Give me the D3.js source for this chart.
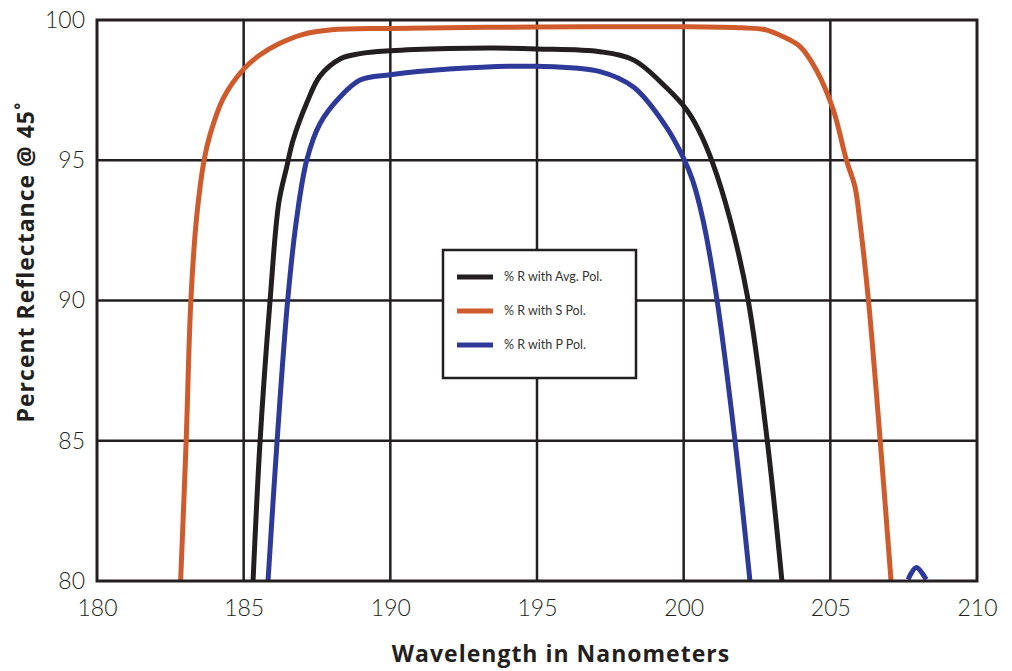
<!DOCTYPE html>
<html><head><meta charset="utf-8">
<script src="https://cdn.jsdelivr.net/npm/d3@7"></script>
<style>body{margin:0;background:#fff}</style>
</head><body>
<svg id="chart" width="1012" height="671"></svg>
<script>
const xTicks = [180,185,190,195,200,205,210];
const yTicks = [80,85,90,95,100];
const seriesNames = ["% R with Avg. Pol.","% R with S Pol.","% R with P Pol."];
const seriesColors = ["#231f20","#cf5a2c","#2e3a9a"];
const avgPol = [[185.32,80],[185.56,85],[185.9,90],[186.2,93.5],[186.47,94.77],[186.68,95.7],[187.15,97.04],[187.6,98.0],[188.3,98.62],[188.97,98.8],[190,98.9],[192,98.98],[193.5,99.0],[195,98.97],[197.15,98.87],[198.3,98.57],[199.4,97.6],[200.1,96.8],[200.5,96.1],[200.99,94.9],[201.58,92.9],[202.2,90],[202.85,85],[203.35,80]];
const sPol = [[182.85,80],[183.04,85],[183.2,90],[183.4,93],[183.65,95],[183.85,95.9],[184.3,97.2],[185,98.25],[185.55,98.75],[186.2,99.15],[187,99.48],[188,99.65],[190,99.7],[195,99.75],[200,99.76],[202,99.72],[202.8,99.65],[203.4,99.4],[203.97,99.05],[204.53,98.2],[205.1,96.8],[205.55,95.0],[205.84,94.05],[206.0,92.87],[206.3,90],[206.7,85],[207.07,80]];
const pPol = [[185.83,80],[186.14,85],[186.5,90],[186.8,92.87],[187.15,95.0],[187.6,96.3],[188.3,97.27],[188.97,97.86],[190,98.05],[192,98.25],[195,98.35],[197.15,98.16],[198.3,97.6],[199.4,96.2],[199.97,95.13],[200.3,94.3],[200.66,92.87],[201.14,90],[201.75,85],[202.26,80],null,[207.65,80.05],[207.93,80.48],[208.27,80.05]];
const seriesData = [avgPol, sPol, pPol];

const svg = d3.select("#chart");
const L=97, R=977, T=20, B=581;
const x = d3.scaleLinear().domain([180,210]).range([L,R]);
const y = d3.scaleLinear().domain([80,100]).range([B,T]);
const ink = "#231f20";

svg.append("defs").append("clipPath").attr("id","clip")
  .append("rect").attr("x",L).attr("y",T).attr("width",R-L).attr("height",B-T);

// grid
svg.append("g").selectAll("line").data(xTicks.slice(1,-1)).join("line")
  .attr("x1",d=>x(d)).attr("x2",d=>x(d)).attr("y1",T).attr("y2",B)
  .attr("stroke",ink).attr("stroke-width",2.5);
svg.append("g").selectAll("line").data(yTicks.slice(1,-1)).join("line")
  .attr("y1",d=>y(d)).attr("y2",d=>y(d)).attr("x1",L).attr("x2",R)
  .attr("stroke",ink).attr("stroke-width",2.5);

// axes via d3
const xAxis = svg.append("g").attr("transform",`translate(0,${B})`)
  .call(d3.axisBottom(x).tickValues(xTicks).tickSize(0).tickPadding(19));
const yAxis = svg.append("g").attr("transform",`translate(${L},0)`)
  .call(d3.axisLeft(y).tickValues(yTicks).tickSize(0).tickPadding(12));
[xAxis,yAxis].forEach(a=>{
  a.select(".domain").remove();
  a.selectAll("text").attr("font-family","Lato, sans-serif").attr("font-weight",300)
   .attr("font-size",23).attr("fill",ink);
});

// lines
const lineGen = d3.line().defined(d=>d!==null).x(d=>x(d[0])).y(d=>y(d[1])).curve(d3.curveCatmullRom.alpha(0.5));
svg.append("g").attr("clip-path","url(#clip)").selectAll("path").data(seriesData).join("path")
  .attr("d",d=>lineGen(d)).attr("fill","none")
  .attr("stroke",(d,i)=>seriesColors[i]).attr("stroke-width",5).attr("stroke-linejoin","round");

// frame
svg.append("rect").attr("x",L).attr("y",T).attr("width",R-L).attr("height",B-T)
  .attr("fill","none").attr("stroke",ink).attr("stroke-width",3);

// legend
const lg = svg.append("g");
lg.append("rect").attr("x",443).attr("y",250).attr("width",193).attr("height",128)
  .attr("fill","#fff").attr("stroke",ink).attr("stroke-width",2.5);
seriesNames.forEach((n,i)=>{
  const yy = 277 + i*34;
  lg.append("line").attr("x1",457).attr("x2",493).attr("y1",yy).attr("y2",yy)
    .attr("stroke",seriesColors[i]).attr("stroke-width",5);
  lg.append("text").attr("x",504).attr("y",yy+4).text(n)
    .attr("font-family","Lato, sans-serif").attr("font-size",12.5).attr("fill","#333");
});

// titles
svg.append("text").attr("x",561).attr("y",662).attr("text-anchor","middle")
  .attr("font-family","'Open Sans', sans-serif").attr("font-weight",700).attr("font-size",23)
  .attr("letter-spacing",1).attr("fill",ink).text("Wavelength in Nanometers");
svg.append("text").attr("transform","translate(34,262) rotate(-90)").attr("text-anchor","middle")
  .attr("font-family","'Open Sans', sans-serif").attr("font-weight",700).attr("font-size",23)
  .attr("letter-spacing",1).attr("fill",ink).text("Percent Reflectance @ 45˚");
</script>
</body></html>
